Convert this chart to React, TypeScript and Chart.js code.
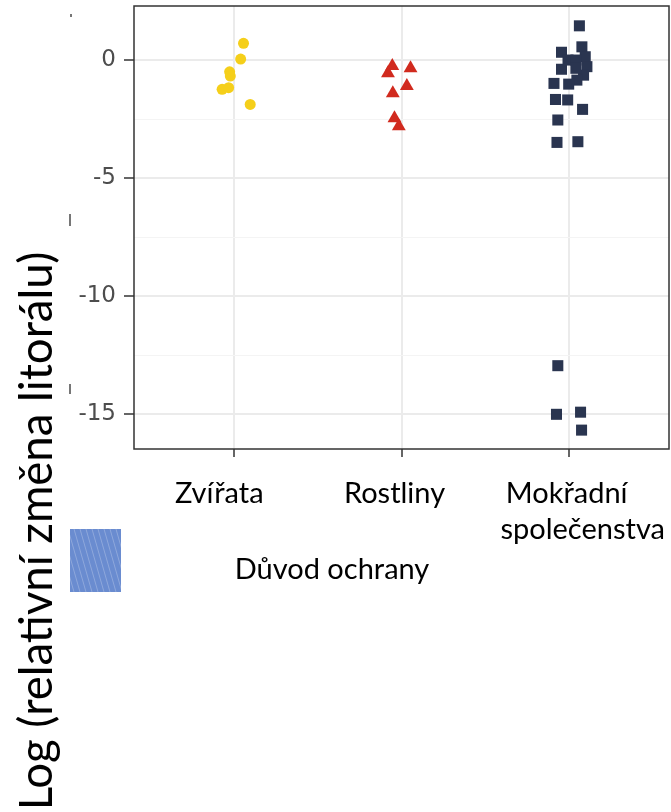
import React, { useEffect, useRef } from 'react';
import { Chart, registerables } from 'chart.js';

Chart.register(...registerables);

const categories: string[][] = [['Zvířata'], ['Rostliny'], ['Mokřadní', 'společenstva']];
const categoryPositions = [1, 2, 3];
const yMajorTicks = [0, -5, -10, -15];
const yGridTicks = [0, -2.5, -5, -7.5, -10, -12.5, -15];

const animalsY = [0.71, 0.04, -0.5, -0.68, -1.24, -1.17, -1.88];
const animalsJitter = [0.055, 0.038, -0.028, -0.024, -0.073, -0.034, 0.095];

const plantsY = [-0.25, -0.56, -0.35, -1.1, -1.41, -2.47, -2.8];
const plantsJitter = [-0.055, -0.081, 0.054, 0.032, -0.052, -0.042, -0.016];

const wetlandY = [
  1.45, 0.56, 0.33, 0.0, -0.39, 0.14, -0.28, -0.64, -0.85, -1.02, 0.0, -0.35,
  -0.99, -1.67, -1.69, -2.09, -2.54, -3.49, -3.46, -12.95, -15.01, -14.92, -15.68,
];
const wetlandJitter = [
  0.064, 0.079, -0.043, -0.004, -0.043, 0.099, 0.109, 0.089, 0.049, 0.0, 0.043, 0.043,
  -0.088, -0.079, -0.006, 0.083, -0.065, -0.07, 0.055, -0.065, -0.073, 0.071, 0.077,
];

const yTitle = 'Log (relativní změna litorálu)';
const xTitle = 'Důvod ochrany';

const toPoints = (ys: number[], jit: number[], cat: number) =>
  ys.map((y, i) => ({ x: cat + jit[i], y }));

// horizontal nudges of the category label lines (as placed in the original figure)
const labelShift = [[-15], [-7], [-2, 14]];

const decorPlugin = {
  id: 'decor',
  afterDraw(chart: any) {
    const { ctx, chartArea } = chart;
    const { left, top, right, bottom } = chartArea;
    const xs = chart.scales.x;
    ctx.save();
    // panel border
    ctx.strokeStyle = '#333333';
    ctx.lineWidth = 1.5;
    ctx.strokeRect(left, top, right - left, bottom - top);

    // category labels
    ctx.font = '29px Lato';
    ctx.fillStyle = '#000000';
    ctx.textAlign = 'center';
    ctx.textBaseline = 'alphabetic';
    categories.forEach((lines, i) => {
      const px = xs.getPixelForValue(categoryPositions[i]);
      lines.forEach((line, j) => {
        ctx.fillText(line, px + labelShift[i][j], bottom + 54 + j * 36);
      });
    });

    // x title
    ctx.fillText(xTitle, 332, 579);

    // y title
    ctx.save();
    ctx.translate(52, 531);
    ctx.rotate(-Math.PI / 2);
    ctx.font = '45.5px Lato';
    ctx.textAlign = 'center';
    ctx.textBaseline = 'alphabetic';
    ctx.fillText(yTitle, 0, 0);
    ctx.restore();

    // blue patch
    ctx.fillStyle = '#6A8CD0';
    ctx.fillRect(70, 529, 51, 63);
    ctx.save();
    ctx.beginPath();
    ctx.rect(70, 529, 51, 63);
    ctx.clip();
    ctx.strokeStyle = 'rgba(255,255,255,0.35)';
    ctx.lineWidth = 0.7;
    for (let i = -20; i < 80; i += 6) {
      ctx.beginPath();
      ctx.moveTo(70 + i, 529);
      ctx.lineTo(70 + i + 18, 592);
      ctx.stroke();
    }
    ctx.restore();

    // small specks
    ctx.fillStyle = 'rgba(60,60,60,0.7)';
    ctx.fillRect(70, 14, 2, 3);
    ctx.fillRect(69, 214, 2, 12);
    ctx.fillRect(69, 384, 2, 10);
    ctx.restore();
  },
};

export default function App() {
  const ref = useRef<HTMLCanvasElement>(null);
  useEffect(() => {
    if (!ref.current) return;
    const chart = new Chart(ref.current, {
      type: 'scatter',
      data: {
        datasets: [
          {
            label: 'Zvířata',
            data: toPoints(animalsY, animalsJitter, categoryPositions[0]),
            pointStyle: 'circle',
            pointRadius: 5.5,
            backgroundColor: '#F5CF1A',
            borderColor: '#F5CF1A',
            borderWidth: 0,
          },
          {
            label: 'Rostliny',
            data: toPoints(plantsY, plantsJitter, categoryPositions[1]),
            pointStyle: 'triangle',
            pointRadius: 8,
            backgroundColor: '#D12A1E',
            borderColor: '#D12A1E',
            borderWidth: 0,
          },
          {
            label: 'Mokřadní společenstva',
            data: toPoints(wetlandY, wetlandJitter, categoryPositions[2]),
            pointStyle: 'rect',
            pointRadius: 7.8,
            backgroundColor: '#2A3550',
            borderColor: '#2A3550',
            borderWidth: 0,
          },
        ],
      },
      options: {
        animation: false,
        responsive: false,
        devicePixelRatio: 1,
        layout: { autoPadding: false, padding: { top: 6, right: 2, left: 0, bottom: 0 } },
        plugins: { legend: { display: false }, tooltip: { enabled: false } },
        scales: {
          x: {
            type: 'linear',
            min: 0.4,
            max: 3.6,
            afterBuildTicks: (s: any) => {
              s.ticks = categoryPositions.map((v) => ({ value: v }));
            },
            afterFit: (s: any) => {
              s.height = 363;
              s.paddingLeft = 0;
              s.paddingRight = 0;
            },
            ticks: { display: false },
            grid: {
              color: '#EBEBEB',
              lineWidth: 2,
              tickColor: '#333333',
              tickLength: 8,
              tickWidth: 1.5,
            },
            border: { display: false },
          },
          y: {
            type: 'linear',
            min: -16.48,
            max: 2.29,
            afterBuildTicks: (s: any) => {
              s.ticks = yGridTicks.map((v) => ({ value: v }));
            },
            afterFit: (s: any) => {
              s.width = 134;
              s.paddingTop = 0;
              s.paddingBottom = 0;
            },
            ticks: {
              padding: 8,
              color: '#4D4D4D',
              font: { family: 'DejaVu Sans', size: 23 },
              callback: (v: any) => (yMajorTicks.includes(v) ? String(v) : ''),
            },
            grid: {
              color: (c: any) => (yMajorTicks.includes(c.tick?.value) ? '#EBEBEB' : '#F4F4F4'),
              lineWidth: (c: any) => (yMajorTicks.includes(c.tick?.value) ? 2 : 1),
              tickColor: (c: any) => (yMajorTicks.includes(c.tick?.value) ? '#333333' : 'rgba(0,0,0,0)'),
              tickLength: 10,
              tickWidth: 1.5,
            },
            border: { display: false },
          },
        },
      },
      plugins: [decorPlugin],
    });
    return () => chart.destroy();
  }, []);
  return (
    <div style={{ position: 'absolute', left: 0, top: 0, width: 671, height: 812, background: '#fff' }}>
      <canvas ref={ref} width={671} height={812} style={{ width: 671, height: 812, display: 'block' }} />
    </div>
  );
}
